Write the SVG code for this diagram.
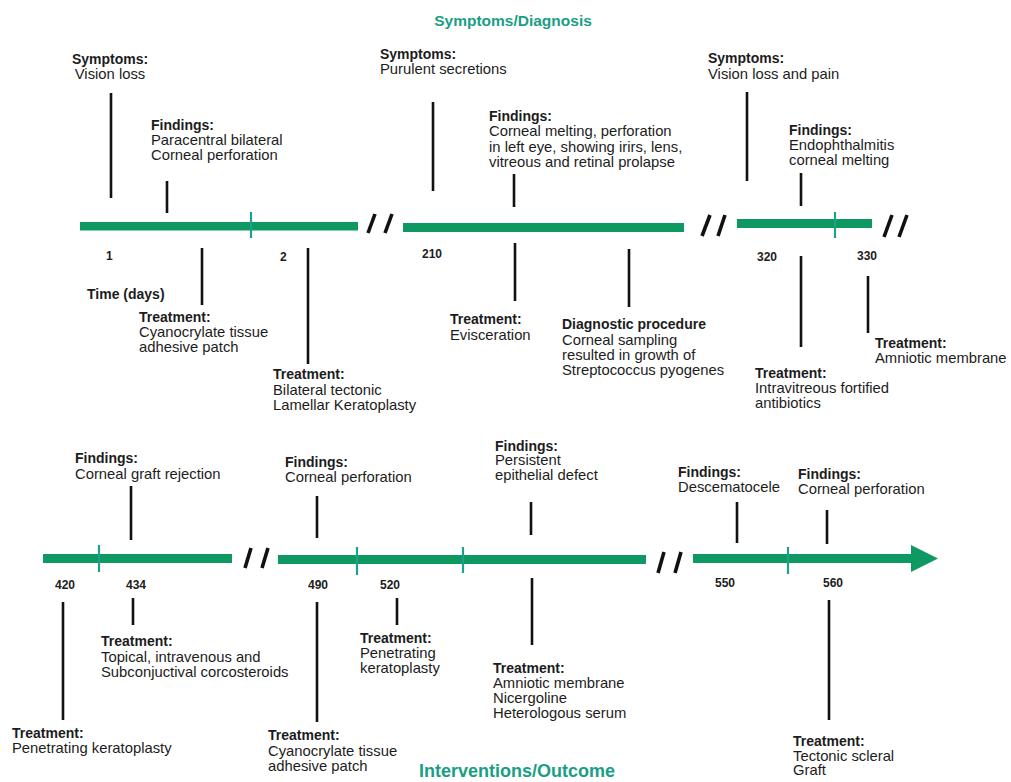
<svg xmlns="http://www.w3.org/2000/svg" width="1011" height="782" viewBox="0 0 1011 782">
<style>
text{font-family:"Liberation Sans",Arial,sans-serif;fill:#1c1c1c}
.h{font-size:14px;font-weight:bold}
.t{font-size:14.8px}
.n{font-size:12px;font-weight:bold}
.title{font-size:15.5px;font-weight:bold;fill:#1a9e84;text-anchor:middle}
.seg{fill:#0e9862}
.tick{stroke:#1ea08a;stroke-width:2.2}
.sl{stroke:#111;stroke-width:3.6;stroke-linecap:butt}
.ld{stroke:#111;stroke-width:2.6}
</style>
<rect width="1011" height="782" fill="#ffffff"/>
<text class="title" x="513" y="26">Symptoms/Diagnosis</text>
<text class="title" x="517" y="777" style="font-size:18px">Interventions/Outcome</text>

<g id="timeline">
  <rect class="seg" x="80" y="222" width="278" height="8.5"/>
  <line class="tick" x1="251" y1="212" x2="251" y2="238"/>
  <line class="sl" x1="368" y1="233" x2="375" y2="214"/>
  <line class="sl" x1="385" y1="233" x2="392" y2="214"/>
  <rect class="seg" x="403" y="223" width="281" height="9"/>
  <line class="sl" x1="702" y1="236" x2="710" y2="215"/>
  <line class="sl" x1="718" y1="236" x2="725" y2="215"/>
  <rect class="seg" x="737" y="219" width="135" height="9"/>
  <line class="tick" x1="835" y1="212" x2="835" y2="238"/>
  <line class="sl" x1="884" y1="237" x2="892" y2="215"/>
  <line class="sl" x1="899" y1="237" x2="907" y2="215"/>

  <rect class="seg" x="43" y="554" width="189" height="9"/>
  <line class="tick" x1="99" y1="545" x2="99" y2="572"/>
  <line class="sl" x1="245" y1="568" x2="251" y2="548"/>
  <line class="sl" x1="262" y1="568" x2="268" y2="548"/>
  <rect class="seg" x="278" y="555" width="368" height="9"/>
  <line class="tick" x1="357" y1="547" x2="357" y2="575"/>
  <line class="tick" x1="463" y1="547" x2="463" y2="573"/>
  <line class="sl" x1="658" y1="573" x2="664" y2="552"/>
  <line class="sl" x1="675" y1="573" x2="681" y2="552"/>
  <rect class="seg" x="693" y="554" width="220" height="9"/>
  <polygon class="seg" points="911,545 938,558.5 911,572"/>
  <line class="tick" x1="788" y1="547" x2="788" y2="574"/>
</g>

<g id="day-labels">
  <text class="n" x="106" y="260">1</text>
  <text class="n" x="280" y="261">2</text>
  <text class="n" x="422" y="258">210</text>
  <text class="n" x="757" y="261">320</text>
  <text class="n" x="857" y="260">330</text>
  <text class="h" x="87" y="299">Time (days)</text>
  <text class="n" x="55" y="589">420</text>
  <text class="n" x="126" y="589">434</text>
  <text class="n" x="308" y="589">490</text>
  <text class="n" x="380" y="589">520</text>
  <text class="n" x="715" y="587">550</text>
  <text class="n" x="823" y="587">560</text>
</g>

<g id="connectors">
  <line class="ld" x1="111" y1="93" x2="111" y2="198"/>
  <line class="ld" x1="167" y1="181" x2="167" y2="213"/>
  <line class="ld" x1="202" y1="248" x2="202" y2="305"/>
  <line class="ld" x1="308" y1="248" x2="308" y2="364"/>
  <line class="ld" x1="433" y1="102" x2="433" y2="191"/>
  <line class="ld" x1="514" y1="174" x2="514" y2="207"/>
  <line class="ld" x1="515" y1="243" x2="515" y2="301"/>
  <line class="ld" x1="629" y1="249" x2="629" y2="307"/>
  <line class="ld" x1="747" y1="92" x2="747" y2="181"/>
  <line class="ld" x1="801" y1="173" x2="801" y2="206"/>
  <line class="ld" x1="801" y1="256" x2="801" y2="347"/>
  <line class="ld" x1="868" y1="276" x2="868" y2="333"/>

  <line class="ld" x1="131" y1="486" x2="131" y2="540"/>
  <line class="ld" x1="317" y1="496" x2="317" y2="538"/>
  <line class="ld" x1="531" y1="502" x2="531" y2="535"/>
  <line class="ld" x1="737" y1="502" x2="737" y2="543"/>
  <line class="ld" x1="827" y1="510" x2="827" y2="544"/>
  <line class="ld" x1="63" y1="602" x2="63" y2="720"/>
  <line class="ld" x1="133" y1="598" x2="133" y2="625"/>
  <line class="ld" x1="317" y1="602" x2="317" y2="722"/>
  <line class="ld" x1="397" y1="598" x2="397" y2="625"/>
  <line class="ld" x1="532" y1="578" x2="532" y2="645"/>
  <line class="ld" x1="829" y1="600" x2="829" y2="720"/>
</g>

<g id="sym1" text-anchor="middle">
  <text class="h" x="110" y="64">Symptoms:</text>
  <text class="t" x="110" y="79">Vision loss</text>
</g>
<g id="find1">
  <text class="h" x="151" y="130">Findings:</text>
  <text class="t" x="151" y="145">Paracentral bilateral</text>
  <text class="t" x="151" y="160">Corneal perforation</text>
</g>
<g id="treat1">
  <text class="h" x="139" y="322">Treatment:</text>
  <text class="t" x="139" y="337">Cyanocrylate tissue</text>
  <text class="t" x="139" y="352">adhesive patch</text>
</g>
<g id="treat2">
  <text class="h" x="273" y="379">Treatment:</text>
  <text class="t" x="273" y="395">Bilateral tectonic</text>
  <text class="t" x="273" y="410">Lamellar Keratoplasty</text>
</g>
<g id="sym2">
  <text class="h" x="380" y="59">Symptoms:</text>
  <text class="t" x="380" y="74">Purulent secretions</text>
</g>
<g id="find2">
  <text class="h" x="489" y="121">Findings:</text>
  <text class="t" x="489" y="136">Corneal melting, perforation</text>
  <text class="t" x="489" y="152">in left eye, showing irirs, lens,</text>
  <text class="t" x="489" y="167">vitreous and retinal prolapse</text>
</g>
<g id="treat3">
  <text class="h" x="450" y="324">Treatment:</text>
  <text class="t" x="450" y="340">Evisceration</text>
</g>
<g id="diag">
  <text class="h" x="562" y="329">Diagnostic procedure</text>
  <text class="t" x="562" y="345">Corneal sampling</text>
  <text class="t" x="562" y="360">resulted in growth of</text>
  <text class="t" x="562" y="375">Streptococcus pyogenes</text>
</g>
<g id="sym3">
  <text class="h" x="708" y="63">Symptoms:</text>
  <text class="t" x="708" y="79">Vision loss and pain</text>
</g>
<g id="find3">
  <text class="h" x="789" y="135">Findings:</text>
  <text class="t" x="789" y="150">Endophthalmitis</text>
  <text class="t" x="789" y="165">corneal melting</text>
</g>
<g id="treat4">
  <text class="h" x="755" y="378">Treatment:</text>
  <text class="t" x="755" y="393">Intravitreous fortified</text>
  <text class="t" x="755" y="408">antibiotics</text>
</g>
<g id="treat5">
  <text class="h" x="875" y="348">Treatment:</text>
  <text class="t" x="875" y="363">Amniotic membrane</text>
</g>

<g id="find4">
  <text class="h" x="75" y="463">Findings:</text>
  <text class="t" x="75" y="479">Corneal graft rejection</text>
</g>
<g id="find5">
  <text class="h" x="285" y="467">Findings:</text>
  <text class="t" x="285" y="482">Corneal perforation</text>
</g>
<g id="find6">
  <text class="h" x="495" y="451">Findings:</text>
  <text class="t" x="495" y="465">Persistent</text>
  <text class="t" x="495" y="480">epithelial defect</text>
</g>
<g id="find7">
  <text class="h" x="678" y="477">Findings:</text>
  <text class="t" x="678" y="492">Descematocele</text>
</g>
<g id="find8">
  <text class="h" x="798" y="479">Findings:</text>
  <text class="t" x="798" y="494">Corneal perforation</text>
</g>
<g id="treat6">
  <text class="h" x="12" y="738">Treatment:</text>
  <text class="t" x="12" y="753">Penetrating keratoplasty</text>
</g>
<g id="treat7">
  <text class="h" x="101" y="646">Treatment:</text>
  <text class="t" x="101" y="662">Topical, intravenous and</text>
  <text class="t" x="101" y="677">Subconjuctival corcosteroids</text>
</g>
<g id="treat8">
  <text class="h" x="268" y="740">Treatment:</text>
  <text class="t" x="268" y="756">Cyanocrylate tissue</text>
  <text class="t" x="268" y="771">adhesive patch</text>
</g>
<g id="treat9">
  <text class="h" x="360" y="643">Treatment:</text>
  <text class="t" x="360" y="658">Penetrating</text>
  <text class="t" x="360" y="673">keratoplasty</text>
</g>
<g id="treat10">
  <text class="h" x="493" y="673">Treatment:</text>
  <text class="t" x="493" y="688">Amniotic membrane</text>
  <text class="t" x="493" y="703">Nicergoline</text>
  <text class="t" x="493" y="718">Heterologous serum</text>
</g>
<g id="treat11">
  <text class="h" x="793" y="746">Treatment:</text>
  <text class="t" x="793" y="761">Tectonic scleral</text>
  <text class="t" x="793" y="775">Graft</text>
</g>
</svg>
